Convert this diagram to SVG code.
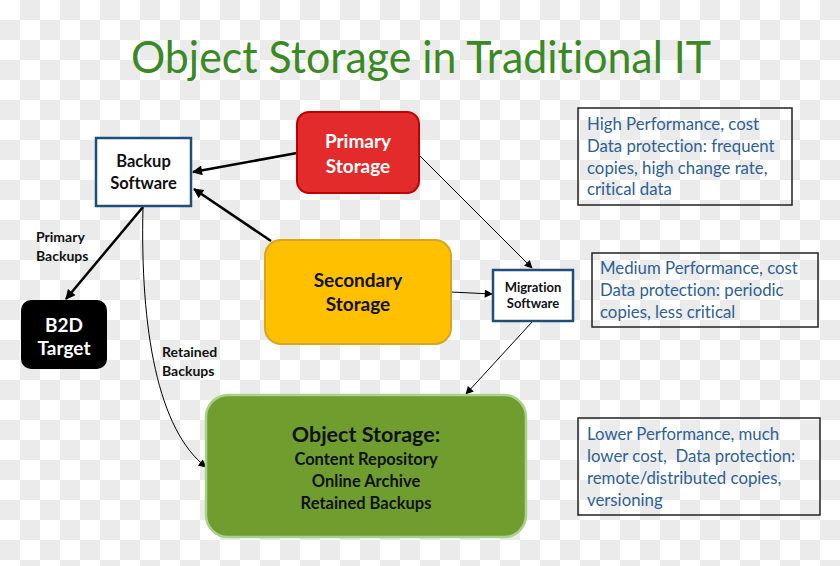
<svg xmlns="http://www.w3.org/2000/svg" width="840" height="566" viewBox="0 0 840 566">
<defs>
<pattern id="chk" width="40" height="40" patternUnits="userSpaceOnUse">
<rect width="40" height="40" fill="#ffffff"/>
<rect x="20" y="0" width="20" height="20" fill="#ebebeb"/>
<rect x="0" y="20" width="20" height="20" fill="#ebebeb"/>
</pattern>
<marker id="ahb" viewBox="0 0 10 10" refX="9" refY="5" markerWidth="12" markerHeight="10" orient="auto" markerUnits="userSpaceOnUse">
<path d="M0,0 L10,5 L0,10 z" fill="#000"/>
</marker>
<marker id="ahs" viewBox="0 0 10 10" refX="9" refY="5" markerWidth="10" markerHeight="8" orient="auto" markerUnits="userSpaceOnUse">
<path d="M0,0 L10,5 L0,10 z" fill="#000"/>
</marker>
</defs>
<style>
text { font-family: Lato, "Open Sans", "Liberation Sans", sans-serif; font-variant-ligatures: none; }
.b { font-weight: bold; text-anchor: middle; }
.note { fill: #2e5f95; font-size: 16.8px; white-space: pre; }
.nbox { fill: none; stroke: #222; stroke-width: 1.5; }
.sw { fill: #fff; stroke: #1f4e79; stroke-width: 2.5; }
.thick { stroke: #000; stroke-width: 2.5; fill: none; }
.thin { stroke: #000; stroke-width: 1; fill: none; }
.lbl { font-weight: bold; font-size: 14px; fill: #111; }
</style>
<rect width="840" height="566" fill="url(#chk)"/>
<text x="421" y="73" text-anchor="middle" font-size="44" fill="#3a8a23" textLength="580" lengthAdjust="spacingAndGlyphs">Object Storage in Traditional IT</text>

<g id="connectors">
<line class="thick" x1="297" y1="153" x2="193" y2="172" marker-end="url(#ahb)"/>
<line class="thick" x1="271" y1="241" x2="194" y2="189" marker-end="url(#ahb)"/>
<line class="thick" x1="143" y1="207" x2="66" y2="299" marker-end="url(#ahb)"/>
<path class="thin" d="M143,207 C140,330 158,430 206,467" marker-end="url(#ahs)"/>
<line class="thin" x1="419" y1="155" x2="532" y2="268" marker-end="url(#ahs)"/>
<line class="thin" x1="451" y1="292" x2="492" y2="294" marker-end="url(#ahs)"/>
<line class="thin" x1="532" y1="322" x2="466" y2="394" marker-end="url(#ahs)"/>
</g>

<g id="backup-software">
<rect class="sw" x="96" y="138" width="95" height="68"/>
<text class="b" x="143.5" y="167" font-size="16.5" fill="#111">Backup</text>
<text class="b" x="143.5" y="189" font-size="16.5" fill="#111">Software</text>
</g>

<g id="primary-storage">
<rect x="297" y="112" width="122" height="81" rx="12" fill="#e32b2b" stroke="#c00000" stroke-width="2"/>
<text class="b" x="358" y="148" font-size="19" fill="#fff">Primary</text>
<text class="b" x="358" y="173" font-size="19" fill="#fff">Storage</text>
</g>

<g id="secondary-storage">
<rect x="265" y="240" width="186" height="104" rx="16" fill="#ffc000" stroke="#d9a521" stroke-width="2"/>
<text class="b" x="358" y="287" font-size="19" fill="#111">Secondary</text>
<text class="b" x="358" y="311" font-size="19" fill="#111">Storage</text>
</g>

<g id="migration-software">
<rect class="sw" x="493" y="270" width="80" height="51"/>
<text class="b" x="533" y="292" font-size="13" fill="#111">Migration</text>
<text class="b" x="533" y="308" font-size="13" fill="#111">Software</text>
</g>

<g id="b2d-target">
<rect x="21" y="300" width="86" height="69" rx="10" fill="#000"/>
<text class="b" x="64" y="332" font-size="19" fill="#fff">B2D</text>
<text class="b" x="64" y="355" font-size="19" fill="#fff">Target</text>
</g>

<g id="object-storage">
<rect x="206" y="395" width="320" height="142" rx="22" fill="#6f9e2f" stroke="#a9d18e" stroke-width="2.5"/>
<text class="b" x="366" y="442" font-size="21.5" fill="#111">Object Storage:</text>
<text class="b" x="366" y="465" font-size="16.5" fill="#111">Content Repository</text>
<text class="b" x="366" y="487" font-size="16.5" fill="#111">Online Archive</text>
<text class="b" x="366" y="509" font-size="16.5" fill="#111">Retained Backups</text>
</g>

<g id="label-primary-backups">
<text class="lbl" x="36" y="242">Primary</text>
<text class="lbl" x="36" y="261">Backups</text>
</g>
<g id="label-retained-backups">
<text class="lbl" x="162" y="357">Retained</text>
<text class="lbl" x="162" y="376">Backups</text>
</g>

<g id="note-primary">
<rect class="nbox" x="578" y="108" width="214" height="97"/>
<text class="note" x="587" y="130">High Performance, cost</text>
<text class="note" x="587" y="152">Data protection: frequent</text>
<text class="note" x="587" y="174">copies, high change rate,</text>
<text class="note" x="587" y="195">critical data</text>
</g>

<g id="note-secondary">
<rect class="nbox" x="592" y="253" width="226" height="74"/>
<text class="note" x="600" y="274">Medium Performance, cost</text>
<text class="note" x="600" y="296">Data protection: periodic</text>
<text class="note" x="600" y="318">copies, less critical</text>
</g>

<g id="note-object">
<rect class="nbox" x="578" y="418" width="242" height="97"/>
<text class="note" x="587" y="440">Lower Performance, much</text>
<text class="note" x="587" y="462">lower cost,  Data protection:</text>
<text class="note" x="587" y="484">remote/distributed copies,</text>
<text class="note" x="587" y="506">versioning</text>
</g>
</svg>
